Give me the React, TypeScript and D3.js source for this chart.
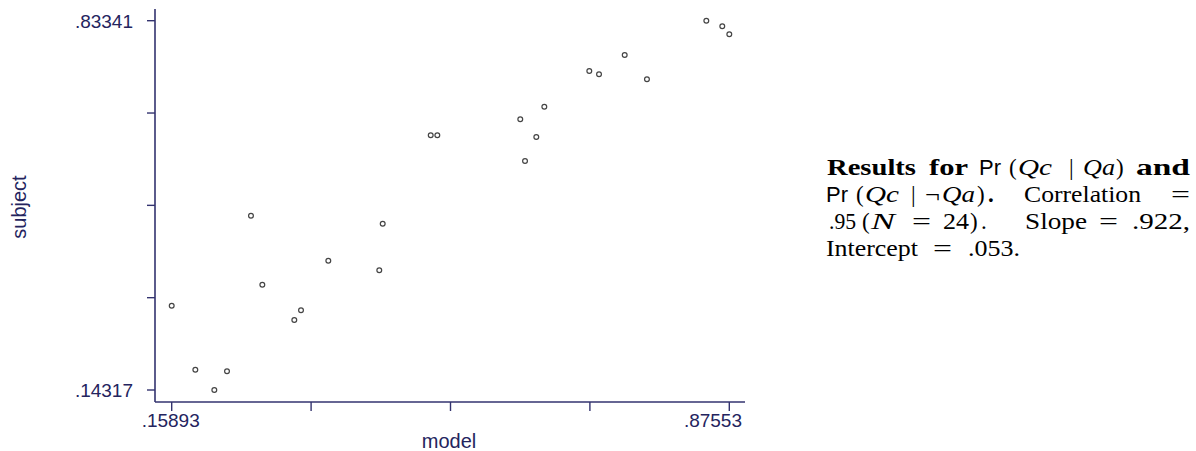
import React from 'react';
import * as d3 from 'd3';

// ---- data ----
const modelX = [0.15893, 0.1893, 0.2137, 0.23, 0.2754, 0.2608, 0.3165, 0.3251, 0.3602, 0.4257, 0.4301, 0.4918, 0.5003, 0.6069, 0.6378, 0.6275, 0.613, 0.6956, 0.7081, 0.7411, 0.7697, 0.846, 0.8665, 0.87553];
const subjectY = [0.3007, 0.1811, 0.14317, 0.1781, 0.34, 0.4689, 0.274, 0.2921, 0.3848, 0.3669, 0.454, 0.6192, 0.6192, 0.6491, 0.6727, 0.616, 0.5712, 0.7394, 0.7332, 0.7693, 0.7239, 0.83341, 0.8229, 0.808];
const xDomain = [0.15893, 0.87553];
const yDomain = [0.14317, 0.83341];
const xTickLabels = ['.15893', '', '', '', '.87553'];
const yTickLabels = ['.14317', '', '', '', '.83341'];
const xTitle = 'model';
const yTitle = 'subject';

const AXIS = '#33336f';
const TXT = '#24245e';

const serif = "'Liberation Serif', 'Times New Roman', serif";
const sans = "'Liberation Sans', Arial, sans-serif";

type Seg = { t: string; x: number; w?: number; k?: 'b' | 'i' | 's' | 'r' };
const lines: { y: number; segs: Seg[] }[] = [
  { y: 175, segs: [
    { t: 'Results', x: 827, w: 89, k: 'b' },
    { t: 'for', x: 929, w: 39, k: 'b' },
    { t: 'Pr', x: 979, w: 22, k: 's' },
    { t: '(', x: 1009 },
    { t: 'Qc', x: 1018, w: 34, k: 'i' },
    { t: '|', x: 1069 },
    { t: 'Qa', x: 1083, w: 32, k: 'i' },
    { t: ')', x: 1116 },
    { t: 'and', x: 1136, w: 54, k: 'b' },
  ] },
  { y: 202, segs: [
    { t: 'Pr', x: 826, w: 22, k: 's' },
    { t: '(', x: 856 },
    { t: 'Qc', x: 865, w: 34, k: 'i' },
    { t: '|', x: 911 },
    { t: '\u00AC', x: 925, w: 15 },
    { t: 'Qa', x: 942, w: 33, k: 'i' },
    { t: ')', x: 977 },
    { t: '.', x: 988, k: 'b' },
    { t: 'Correlation', x: 1024, w: 117 },
    { t: '=', x: 1171, w: 19 },
  ] },
  { y: 229, segs: [
    { t: '.95', x: 829, w: 27 },
    { t: '(', x: 862 },
    { t: 'N', x: 871, w: 24, k: 'i' },
    { t: '=', x: 912, w: 19 },
    { t: '24', x: 943, w: 26 },
    { t: ')', x: 970 },
    { t: '.', x: 981 },
    { t: 'Slope', x: 1025, w: 62 },
    { t: '=', x: 1099, w: 19 },
    { t: '.922,', x: 1132, w: 58 },
  ] },
  { y: 256, segs: [
    { t: 'Intercept', x: 826, w: 92 },
    { t: '=', x: 933, w: 19 },
    { t: '.053.', x: 968, w: 52 },
  ] },
];

export default function App() {
  const x = d3.scaleLinear().domain(xDomain).range([171.7, 729.3]);
  const y = d3.scaleLinear().domain(yDomain).range([390, 20.7]);
  const xTicks = d3.range(5).map((i) => xDomain[0] + (i * (xDomain[1] - xDomain[0])) / 4);
  const yTicks = d3.range(5).map((i) => yDomain[0] + (i * (yDomain[1] - yDomain[0])) / 4);
  const axisX = 155;
  const axisY = 402;

  return (
    <svg width={1196} height={451} style={{ position: 'absolute', left: 0, top: 0, background: '#fff' }}>
      <rect width={1196} height={451} fill="#fff" />
      {/* axes */}
      <line x1={axisX} x2={axisX} y1={9} y2={axisY} stroke={AXIS} strokeWidth={1.6} />
      <line x1={axisX} x2={745} y1={axisY} y2={axisY} stroke={AXIS} strokeWidth={1.6} />
      {yTicks.map((v, i) => (
        <g key={'yt' + i}>
          <line x1={axisX - 8} x2={axisX} y1={y(v)} y2={y(v)} stroke={AXIS} strokeWidth={1.4} />
          {yTickLabels[i] && (
            <text x={133} y={y(v) + 7} textAnchor="end" fontFamily={sans} fontSize={19} fill={TXT}>
              {yTickLabels[i]}
            </text>
          )}
        </g>
      ))}
      {xTicks.map((v, i) => (
        <g key={'xt' + i}>
          <line x1={x(v)} x2={x(v)} y1={axisY} y2={axisY + 9} stroke={AXIS} strokeWidth={1.4} />
          {xTickLabels[i] && (
            <text
              x={i === xTicks.length - 1 ? 742 : x(v) - 1}
              y={427}
              textAnchor={i === xTicks.length - 1 ? 'end' : 'middle'}
              fontFamily={sans}
              fontSize={19}
              fill={TXT}
            >
              {xTickLabels[i]}
            </text>
          )}
        </g>
      ))}
      <text x={449} y={448} textAnchor="middle" fontFamily={sans} fontSize={20} fill={TXT}>
        {xTitle}
      </text>
      <text
        transform={`translate(26,207) rotate(-90)`}
        textAnchor="middle"
        fontFamily={sans}
        fontSize={20}
        fill={TXT}
      >
        {yTitle}
      </text>
      {/* points */}
      {modelX.map((mx, i) => (
        <circle key={'p' + i} cx={x(mx)} cy={y(subjectY[i])} r={2.4} fill="#fff" stroke="#444" strokeWidth={1.2} />
      ))}
      {/* caption */}
      {lines.map((ln, li) => (
        <g key={'l' + li}>
          {ln.segs.map((s, si) => (
            <text
              key={si}
              x={s.x}
              y={ln.y}
              fontFamily={s.k === 's' ? sans : serif}
              fontWeight={s.k === 'b' ? 'bold' : 'normal'}
              fontStyle={s.k === 'i' ? 'italic' : 'normal'}
              fontSize={s.k === 's' ? 22 : 23}
              fill="#000"
              textLength={s.w}
              lengthAdjust={s.w ? 'spacingAndGlyphs' : undefined}
            >
              {s.t}
            </text>
          ))}
        </g>
      ))}
    </svg>
  );
}
